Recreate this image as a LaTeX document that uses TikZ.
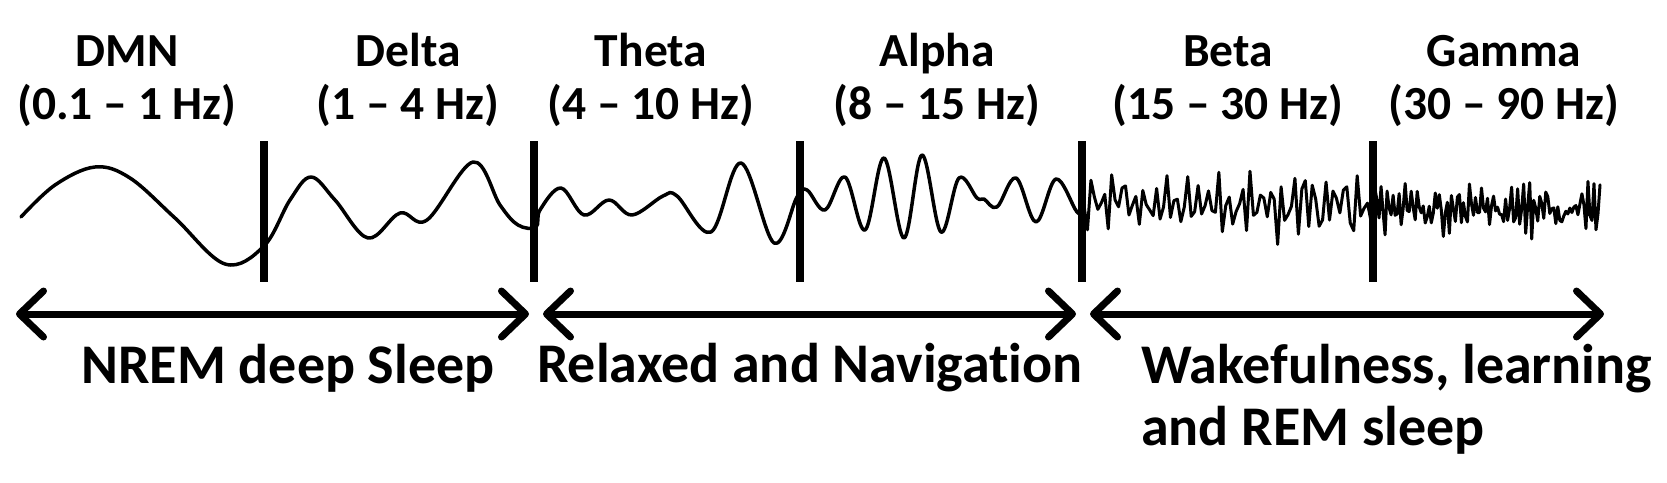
\documentclass[tikz,border=0pt]{standalone}
\usepackage{fontspec}
\setmainfont{Carlito}[Ligatures=NoCommon]
\usetikzlibrary{arrows.meta}
\begin{document}
\begin{tikzpicture}[x=1pt,y=-1pt,
  bandlbl/.style={font=\fontsize{47.5}{50}\selectfont\bfseries,anchor=base,inner sep=0pt},
  statelbl/.style={font=\fontsize{56}{60}\selectfont\bfseries,anchor=base,inner sep=0pt},
  divider/.style={line width=8pt},
  wave/.style={line width=3.5pt,line join=round,line cap=round},
  fastwave/.style={line width=3pt,line join=round,line cap=round},
  span/.style={line width=7pt,{Straight Barb[length=24pt,width=46pt,line width=7pt,round]}-{Straight Barb[length=24pt,width=46pt,line width=7pt,round]},shorten <=3pt,shorten >=3pt}]
\useasboundingbox (0,0) rectangle (1667,482);
\pgfmathsetseed{4321}
% band labels
\node[bandlbl] (dmn) at (127,66) {DMN};
\node[bandlbl] (dmnf) at (127,119) {(0.1 – 1 Hz)};
\node[bandlbl] (delta) at (408,66) {Delta};
\node[bandlbl] (deltaf) at (408,119) {(1 – 4 Hz)};
\node[bandlbl] (theta) at (651,66) {Theta};
\node[bandlbl] (thetaf) at (651,119) {(4 – 10 Hz)};
\node[bandlbl] (alpha) at (937,66) {Alpha};
\node[bandlbl] (alphaf) at (937,119) {(8 – 15 Hz)};
\node[bandlbl] (beta) at (1228,66) {Beta};
\node[bandlbl] (betaf) at (1228,119) {(15 – 30 Hz)};
\node[bandlbl] (gamma) at (1504,66) {Gamma};
\node[bandlbl] (gammaf) at (1504,119) {(30 – 90 Hz)};
% waves
\draw[wave] plot[smooth,tension=0.6] coordinates {
 (21,217) (55,185) (95,167) (130,178) (175,218) (225,264) (264,246)
 (290,200) (311,177) (335,200) (368,238) (400,213) (427,220) (473,162) (500,205) (518,225) (536,227)
 (540,210) (561,188) (584,215) (609,200) (632,215) (663,196) (677,196) (711,232) (741,163) (774,243) (797,197)
 (807,190) (825,210) (845,177) (865,230) (884,158) (904,238) (922,155) (941,232) (959,178) (977,198) (984,199)
 (997,207) (1016,178) (1036,222) (1056,179) (1077,212) (1084,210)};
\draw[fastwave] plot[domain=0:287,samples=84] ({1084+\x},{205+19*sin(34*\x)+10*sin(47*\x+20)+13*(rand)});
\draw[fastwave] plot[domain=0:229,samples=115] ({1371+\x},{210+(15+8*sin(5*\x))*sin(61*\x)+13*(rand)});
% dividers
\foreach \n/\xx in {1/264,2/534,3/800,4/1082,5/1373}{
  \coordinate (t\n) at (\xx,141);
  \coordinate (b\n) at (\xx,282);
  \draw[divider] (t\n) -- (b\n);
}
% spans
\coordinate (s1l) at (13,314);
\coordinate (s1r) at (532,314);
\coordinate (s2l) at (540,314);
\coordinate (s2r) at (1079,314);
\coordinate (s3l) at (1087,314);
\coordinate (s3r) at (1607,314);
\draw[span] (s1l) -- (s1r);
\draw[span] (s2l) -- (s2r);
\draw[span] (s3l) -- (s3r);
% state labels
\node[statelbl] (nrem) at (288,383) {NREM deep Sleep};
\node[statelbl] (relax) at (810,382) {Relaxed and Navigation};
\node[statelbl,anchor=base west] (wake) at (1141,383) {Wakefulness, learning};
\node[statelbl,anchor=base west] (rem) at (1141,445) {and REM sleep};
\end{tikzpicture}
\end{document}
